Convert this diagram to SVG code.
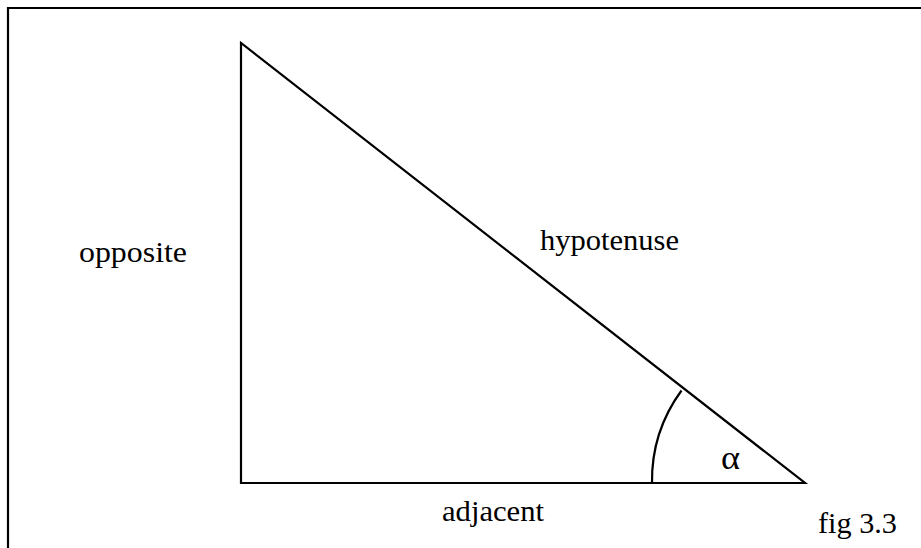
<svg xmlns="http://www.w3.org/2000/svg" width="921" height="548" viewBox="0 0 921 548">
<style>
.ln{fill:none;stroke:#000;stroke-width:2.2}
</style>
<rect x="0" y="0" width="921" height="548" fill="#fff"/>
<path class="ln" d="M8,560 V8 H930"/>
<g id="triangle">
<path class="ln" d="M241,43 V483 H805 Z" stroke-linejoin="miter"/>
</g>
<g font-family="'Liberation Serif', 'DejaVu Serif', 'Times New Roman', serif" font-size="30" fill="#000">
<g id="angle">
<path class="ln" d="M652,483 A153,153 0 0 1 681.5,390.5"/>
<text x="721" y="469" textLength="19" lengthAdjust="spacingAndGlyphs" font-size="34">α</text>
</g>
<text x="79" y="262" textLength="108" lengthAdjust="spacingAndGlyphs">opposite</text>
<text x="540" y="250" textLength="139" lengthAdjust="spacingAndGlyphs">hypotenuse</text>
<text x="442" y="521" textLength="102" lengthAdjust="spacingAndGlyphs">adjacent</text>
<text x="818" y="533" textLength="79" lengthAdjust="spacingAndGlyphs">fig 3.3</text>
</g>
</svg>
